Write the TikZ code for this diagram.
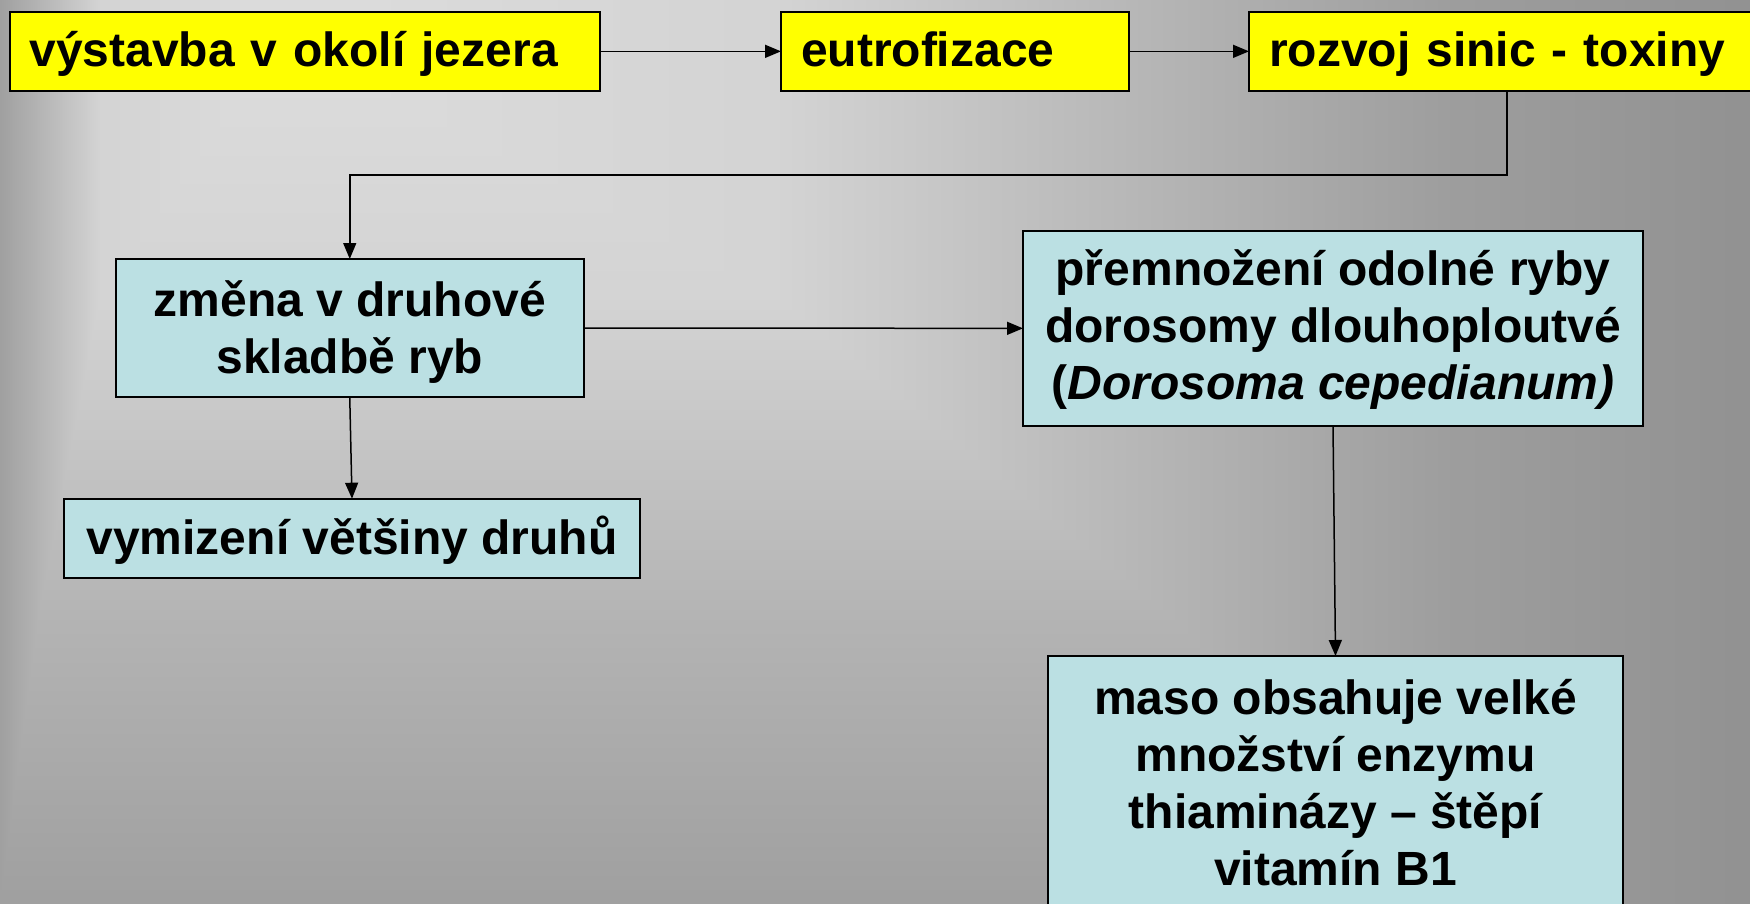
\documentclass[tikz,border=0pt]{standalone}
\usepackage{fontspec}
\setmainfont{Liberation Sans}
\usetikzlibrary{arrows.meta}

% box fills
\definecolor{boxYellow}{RGB}{255,255,0}
\definecolor{boxCyan}{RGB}{187,224,227}

\tikzset{
  boxfont/.style={font=\fontsize{24}{28.5}\selectfont\bfseries},
  box/.style={draw=black, line width=1pt, rectangle, inner sep=0pt, outer sep=0pt},
  topbox/.style={box, boxfont, fill=boxYellow, align=left, minimum height=39.65pt,
    inner xsep=10pt, text height=21.36pt, text depth=6pt},
  fishbox/.style={box, fill=boxCyan},
  fishtext/.style={boxfont, align=center, inner sep=0pt},
  link/.style={line width=0.75pt, -{Triangle[length=8pt,width=6.5pt]}},
}

\begin{document}
\begin{tikzpicture}[x=0.5pt,y=-0.5pt]
\useasboundingbox (0,0) rectangle (1750,904);
\begin{scope}
  \clip (0,0) rectangle (1750,904);
  % rectangular grey gradient: nested rectangles, one grey level each
  \fill[fill={rgb,255:red,146;green,146;blue,146}] (0,0) rectangle (1750,904);
  \foreach \c in {146,...,212} {
    \pgfmathsetmacro\Lx{100-(212-\c)*1.923}
    \pgfmathsetmacro\Rx{(\c>=178) ? (780+(212-\c)*12.353) : ((\c>=158) ? (1200+(178-\c)*12.5) : (1450+(158-\c)*25))}
    \pgfmathsetmacro\By{(\c>=180) ? (300+(212-\c)*10) : (620+(180-\c)*14.2)}
    \definecolor{lvl}{RGB}{\c,\c,\c}
    \fill[lvl] (\Lx,-150) rectangle (\Rx,\By);
  }
  \foreach \c in {213,...,221} {
    \pgfmathsetmacro\k{(\c-212)/9}
    \pgfmathsetmacro\Lx{100+\k*180}
    \pgfmathsetmacro\Rx{780-\k*500}
    \pgfmathsetmacro\Ty{-150+\k*190}
    \pgfmathsetmacro\By{300-\k*260}
    \definecolor{lvl}{RGB}{\c,\c,\c}
    \fill[lvl] (\Lx,\Ty) rectangle (\Rx,\By);
  }

  % top row
  \node[topbox, text width=275.25pt] (v) at (304.75,51.35) {výstavba v okolí jezera};
  \node[topbox, text width=154pt] (e) at (955,51.35) {eutrofizace};
  \node[topbox, text width=238pt] (r) at (1507,51.35) {rozvoj sinic - toxiny};

  % fish boxes and their texts
  \node[fishbox, minimum width=234.25pt, minimum height=69pt] (z) at (349.75,328) {};
  \node[fishtext, yshift=-2.2pt] (zt) at (z) {změna v druhové\\skladbě ryb};

  \node[fishbox, minimum width=310pt, minimum height=97.35pt] (p) at (1333,328.35) {};
  \node[fishtext, yshift=-0.6pt] (pt) at (p)
    {přemnožení odolné ryby\\dorosomy dlouhoploutvé\\(\textit{Dorosoma cepedianum)}};

  \node[fishbox, minimum width=288pt, minimum height=39.65pt] (vm) at (352,538.35) {};
  \node[fishtext, yshift=-1.1pt] (vmt) at (vm) {vymizení většiny druhů};

  \node[fishbox, minimum width=287.5pt, minimum height=126pt] (m) at (1335.5,782) {};
  \node[fishtext, yshift=-0.3pt] (mt) at (m)
    {maso obsahuje velké\\množství enzymu\\thiaminázy – štěpí\\vitamín B1};

  % connectors
  \draw[link] (v.east) -- (e.west);
  \draw[link] (e.east) -- (r.west);
  \draw[link] (r.south) -- ++(0,84) -| (z.north);
  \draw[link] (z.east) -- (p.west);
  \draw[link] (z.south) -- (vm.north);
  \draw[link] (p.south) -- (m.north);
\end{scope}
\end{tikzpicture}
\end{document}
